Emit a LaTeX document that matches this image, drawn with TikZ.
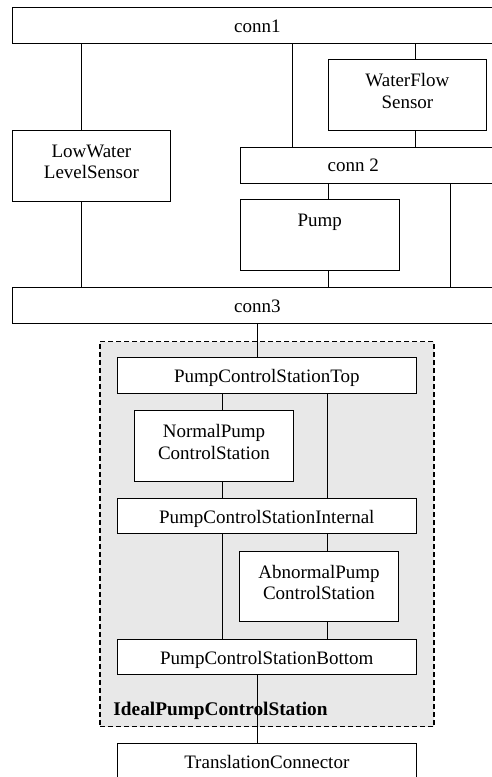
\documentclass[tikz,border=0pt]{standalone}
\usepackage{fontspec}
\setmainfont{Liberation Serif}
\usepackage{tikz}
\usetikzlibrary{positioning}
\definecolor{stationgray}{HTML}{E8E8E8}

\begin{document}
\begin{tikzpicture}[x=1pt, y=-1pt, line width=0.9pt,
    font=\fontsize{19}{21.7}\selectfont,
    bar/.style={draw, fill=white, anchor=north west, minimum height=36pt, inner sep=0pt,
                text height=14.4pt, text depth=0pt},
    block/.style={draw, fill=white, anchor=north west, align=center,
                  minimum width=158.5pt, minimum height=70.5pt, inner sep=0pt,
                  text depth=8pt},
    link/.style={line width=0.9pt}]

    \useasboundingbox (0,0) rectangle (492,777);
    \clip (0,0) rectangle (492,777);

    % 1. The station frame (gray, dashed) and its name
    \node[draw, dash pattern=on 5pt off 3pt, line width=1.6pt, fill=stationgray,
          anchor=north west, minimum width=334.3pt, minimum height=385pt, inner sep=0pt]
          (station) at (99,340.7) {};
    \node[anchor=base west, font=\fontsize{19.3}{21.7}\selectfont\bfseries, inner sep=0pt]
          (stationname) at (113,715.5) {IdealPumpControlStation};

    % 2. Connector bars
    \node[bar, minimum width=490.6pt] (conn1) at (11.7,7.3) {conn1};
    \node[bar, minimum width=300pt] (conn2) at (240,146.7) {};
    \node[text height=14.4pt, text depth=0pt, inner sep=0pt] (conn2name) at (353.3,164.7) {conn 2};
    \node[bar, minimum width=490.6pt] (conn3) at (11.7,287.3) {conn3};

    % 3. Sensors and pump
    \node[block] (flow) at (327.7,59.3) {WaterFlow\\Sensor};
    \node[block] (lowwater) at (11.7,130) {LowWater\\LevelSensor};
    \node[block] (pump) at (240,199.3) {Pump\\\mbox{}};

    % 4. Inside the control station
    \node[bar, minimum width=299.3pt] (top) at (116.7,357.3) {PumpControlStationTop};
    \node[block] (normal) at (134.3,410) {NormalPump\\ControlStation};
    \node[bar, minimum width=299.3pt, minimum height=35pt] (internal) at (116.7,498.3) {PumpControlStationInternal};
    \node[block] (abnormal) at (239.3,550.7) {AbnormalPump\\ControlStation};
    \node[bar, minimum width=299.3pt, minimum height=35pt] (bottom) at (116.7,639) {PumpControlStationBottom};
    \node[bar, minimum width=299.3pt] (translation) at (116.7,743.3) {TranslationConnector};

    % 5. Columns of the links
    \coordinate (colA) at (81.7,0);
    \coordinate (colB) at (292.7,0);
    \coordinate (colC) at (415,0);
    \coordinate (colD) at (328.3,0);
    \coordinate (colE) at (450.7,0);
    \coordinate (colF) at (257.3,0);
    \coordinate (colG) at (222.3,0);
    \coordinate (colH) at (327.7,0);

    % 6. Links
    \draw[link] (conn1.south -| colA) -- (lowwater.north -| colA);
    \draw[link] (lowwater.south -| colA) -- (conn3.north -| colA);
    \draw[link] (conn1.south -| colB) -- (conn2.north -| colB);
    \draw[link] (conn1.south -| colC) -- (flow.north -| colC);
    \draw[link] (flow.south -| colC) -- (conn2.north -| colC);
    \draw[link] (conn2.south -| colD) -- (pump.north -| colD);
    \draw[link] (pump.south -| colD) -- (conn3.north -| colD);
    \draw[link] (conn2.south -| colE) -- (conn3.north -| colE);
    \draw[link] (conn3.south -| colF) -- (top.north -| colF);
    \draw[link] (top.south -| colG) -- (normal.north -| colG);
    \draw[link] (normal.south -| colG) -- (internal.north -| colG);
    \draw[link] (top.south -| colH) -- (internal.north -| colH);
    \draw[link] (internal.south -| colG) -- (bottom.north -| colG);
    \draw[link] (internal.south -| colH) -- (abnormal.north -| colH);
    \draw[link] (abnormal.south -| colH) -- (bottom.north -| colH);
    \draw[link] (bottom.south -| colF) -- (translation.north -| colF);

\end{tikzpicture}
\end{document}
